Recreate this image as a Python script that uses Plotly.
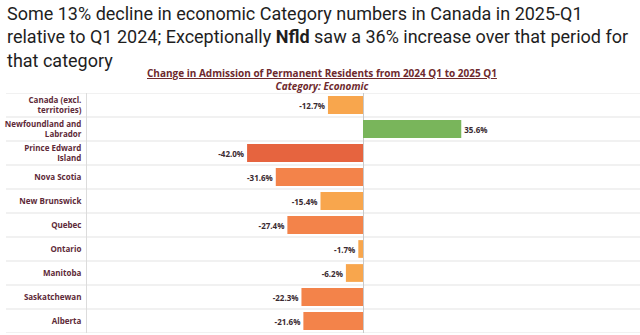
import plotly.graph_objects as go

provinces = [
    "Canada (excl.<br>territories)",
    "Newfoundland and<br>Labrador",
    "Prince Edward<br>Island",
    "Nova Scotia",
    "New Brunswick",
    "Quebec",
    "Ontario",
    "Manitoba",
    "Saskatchewan",
    "Alberta",
]
change_pct = [-12.7, 35.6, -42.0, -31.6, -15.4, -27.4, -1.7, -6.2, -22.3, -21.6]

headline = ("Some 13% decline in economic Category numbers in Canada in 2025-Q1<br>"
            "relative to Q1 2024; Exceptionally <b>Nfld</b> saw a 36% increase over that period for<br>"
            "that category")
chart_title = "Change in Admission of Permanent Residents from 2024 Q1 to 2025 Q1"
chart_subtitle = "Category: Economic"


def bar_color(v):
    if v > 0:
        return "#79b55b"
    if v <= -35:
        return "#e6643f"
    if v <= -20:
        return "#f3834a"
    return "#f8a64d"


W, H = 640, 335
top_px, bot_px, left_px, right_px = 93, 333, 87, 639

fig = go.Figure(go.Bar(
    x=change_pct,
    y=provinces,
    orientation="h",
    width=0.74,
    marker=dict(color=[bar_color(v) for v in change_pct], line=dict(width=0)),
    texttemplate="%{x:.1f}%",
    textposition="outside",
    textfont=dict(family="Open Sans", size=8, color="#3a2a30", weight="bold"),
    cliponaxis=False,
    hoverinfo="skip",
))

n = len(provinces)
shapes = []
for i in range(n + 1):
    shapes.append(dict(type="line", xref="paper", yref="y",
                       x0=6 / W, x1=1, y0=i - 0.5, y1=i - 0.5,
                       line=dict(color="#e3e3e3", width=1), layer="below"))

fig.update_layout(
    width=W, height=H,
    margin=dict(l=0, r=0, t=0, b=0),
    paper_bgcolor="white", plot_bgcolor="white",
    showlegend=False,
    shapes=shapes,
    xaxis=dict(domain=[left_px / W, right_px / W], range=[-100, 100],
               showticklabels=False, showgrid=False,
               zeroline=True, zerolinecolor="#c9c9c9", zerolinewidth=1),
    yaxis=dict(domain=[1 - bot_px / H, 1 - top_px / H], type="category",
               range=[n - 0.5, -0.5], showgrid=False,
               showline=True, linecolor="#dcdcdc", linewidth=1,
               ticks="", ticklabelstandoff=3,
               tickfont=dict(family="Open Sans", size=8, color="#5e2a38", weight="bold")),
    annotations=[
        dict(text=headline, xref="paper", yref="paper", x=5 / W, y=1 - 1 / H,
             xanchor="left", yanchor="top", align="left", showarrow=False,
             font=dict(family="Roboto", size=18, color="#1e1e1e")),
        dict(text="<u>" + chart_title + "</u><br><i>" + chart_subtitle + "</i>",
             xref="paper", yref="paper",
             x=322 / W, y=1 - 79 / H, xanchor="center", yanchor="middle",
             align="center", showarrow=False,
             font=dict(family="Open Sans", size=10, color="#6e2a2e", weight="bold")),
    ],
)

fig.write_html("out.html")
